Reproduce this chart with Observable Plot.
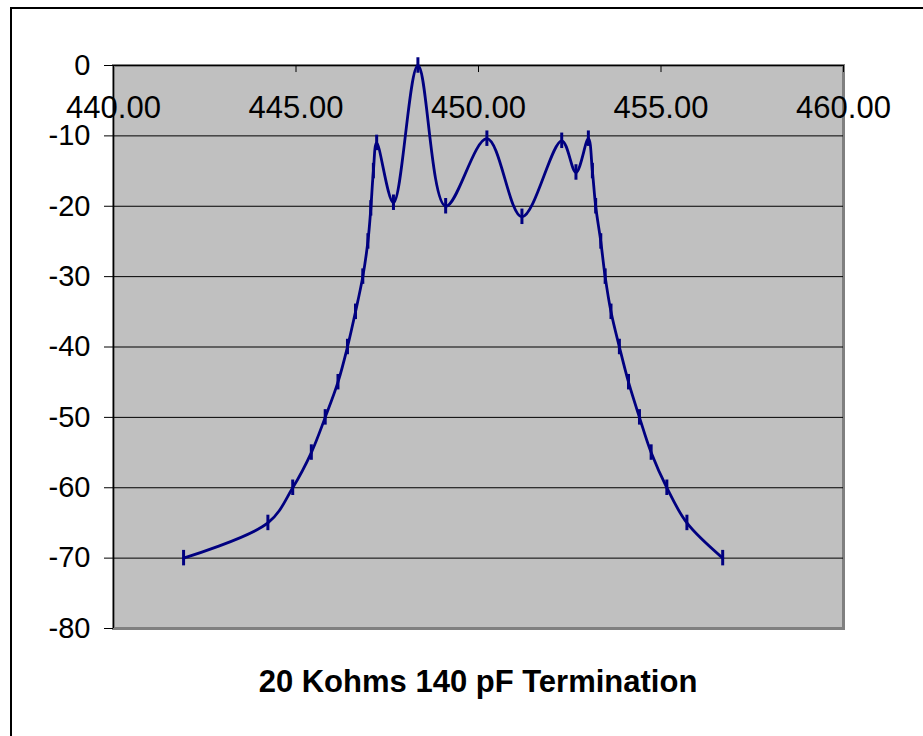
<!DOCTYPE html>
<html>
<head>
<meta charset="utf-8">
<script src="https://cdn.jsdelivr.net/npm/d3@7"></script>
<script src="https://cdn.jsdelivr.net/npm/@observablehq/plot@0.6"></script>
<style>
  body { margin: 0; background: #fff; font-family: "Liberation Sans", Arial, sans-serif; }
  #wrap { position: relative; width: 923px; height: 736px; overflow: hidden; }
  #border { position: absolute; left: 10px; top: 7px; width: 940px; height: 760px;
            border-top: 2px solid #000; border-left: 2px solid #000; box-sizing: border-box; }
  #chart { position: absolute; left: 0; top: 0; }
  #title { position: absolute; left: 113px; width: 730px; top: 664px; text-align: center;
           font-weight: bold; font-size: 31px; color: #000; }
</style>
</head>
<body>
<div id="wrap">
  <div id="border"></div>
  <div id="chart"></div>
  <div id="title">20 Kohms 140 pF Termination</div>
</div>
<script>
// Frequency (MHz) and level (dB)
const freq = [441.92, 444.23, 444.91, 445.42, 445.80, 446.15, 446.41, 446.63, 446.83, 446.97,
              447.05, 447.12, 447.21, 447.67, 448.34, 449.10, 450.23, 451.19, 452.28, 452.67,
              453.01, 453.12, 453.21, 453.35, 453.47, 453.63, 453.86, 454.11, 454.41, 454.73,
              455.16, 455.71, 456.69];
const level = [-70, -65, -60, -55, -50, -45, -40, -35, -30, -25,
               -20.3, -15, -11, -19.5, 0, -20, -10.4, -21.5, -10.7, -15.2,
               -10.4, -15, -20, -25, -30, -35, -40, -45, -50, -55,
               -60, -65, -70];
const xTicks = [440, 445, 450, 455, 460];
const yTicks = [0, -10, -20, -30, -40, -50, -60, -70, -80];
const gridY = [-10, -20, -30, -40, -50, -60, -70];

const data = freq.map((f, i) => ({x: f, y: level[i]}));
const navy = "#000080";

const chart = Plot.plot({
  width: 923,
  height: 650,
  marginLeft: 113,
  marginRight: 80,
  marginTop: 65,
  marginBottom: 22,
  style: {fontFamily: "'Liberation Sans', Arial, sans-serif", fontSize: "28px", background: "transparent", overflow: "visible"},
  x: {domain: [440, 460]},
  y: {domain: [-80, 0]},
  marks: [
    Plot.frame({fill: "#c0c0c0", stroke: "#808080", strokeWidth: 3}),
    Plot.ruleY(gridY, {stroke: "#000", strokeWidth: 1}),
    Plot.ruleY([0], {stroke: "#000", strokeWidth: 1}),
    Plot.ruleX([440], {stroke: "#000", strokeWidth: 1}),
    Plot.axisY({ticks: yTicks, tickSize: 9, tickPadding: 14, tickFormat: d => String(d), label: null, fontSize: 29, stroke: "#000", color: "#000"}),
    Plot.axisX({ticks: [], tickSize: 0, label: null}),
    Plot.ruleX(xTicks, {x: d => d, y1: 0, y2: -1, stroke: "#000", strokeWidth: 1}),
    Plot.line(data, {x: "x", y: "y", curve: "catmull-rom", stroke: navy, strokeWidth: 2.8}),
    Plot.ruleX(data, {x: "x", y1: d => d.y - 1.1, y2: d => d.y + 1.1, stroke: navy, strokeWidth: 3}),
    Plot.text(xTicks, {x: d => d, y: 0, text: d => d.toFixed(2), dy: 43, fontSize: 31, fill: "#000"})
  ]
});
document.getElementById("chart").appendChild(chart);
</script>
</body>
</html>
